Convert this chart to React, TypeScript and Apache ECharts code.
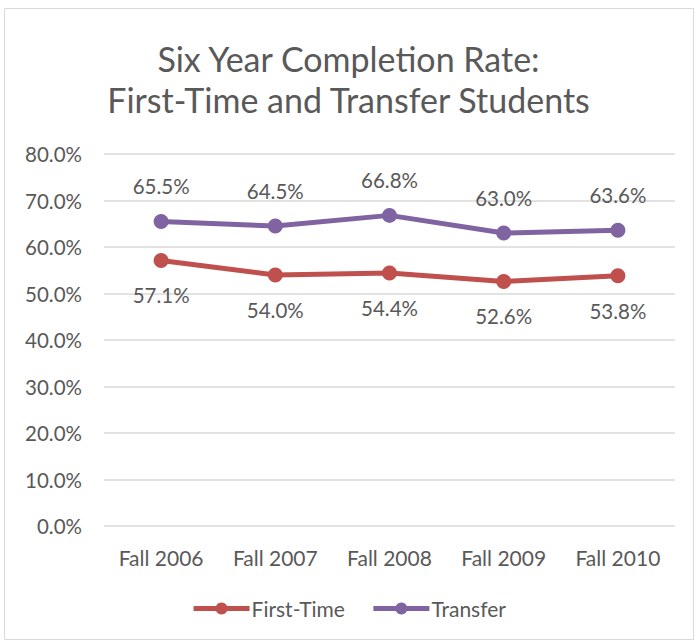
import React, { useEffect, useRef } from "react";
import * as echarts from "echarts";

const categories = ["Fall 2006", "Fall 2007", "Fall 2008", "Fall 2009", "Fall 2010"];
const firstTime = [57.1, 54.0, 54.4, 52.6, 53.8];
const transfer = [65.5, 64.5, 66.8, 63.0, 63.6];
const titleLines = ["Six Year Completion Rate:", "First-Time and Transfer Students"];

const FONT = "Lato, 'Open Sans', sans-serif";
const TXT = "#595959";

export default function App() {
  const ref = useRef<HTMLDivElement>(null);
  useEffect(() => {
    document.body.style.margin = "0";
    const chart = echarts.init(ref.current!, undefined, { renderer: "svg" });
    const pct = (v: number) => v.toFixed(1) + "%";
    chart.setOption({
      animation: false,
      backgroundColor: "#ffffff",
      textStyle: { fontFamily: FONT, color: TXT },
      title: {
        text: titleLines.join("\n"),
        left: "center",
        top: 33,
        textStyle: { fontFamily: FONT, fontSize: 34, fontWeight: "normal", color: TXT, lineHeight: 41 },
      },
      graphic: [
        {
          type: "rect",
          shape: { x: 4.5, y: 8.5, width: 689, height: 631 },
          style: { fill: "none", stroke: "#d9d9d9", lineWidth: 1 },
          silent: true,
        },
      ],
      legend: {
        bottom: 19,
        left: "center",
        itemWidth: 56,
        itemHeight: 15,
        itemGap: 26,
        lineStyle: { width: 5 },
        textStyle: { fontFamily: FONT, fontSize: 21, color: TXT, padding: [0, 0, 0, -3] },
        data: ["First-Time", "Transfer"],
      },
      grid: { left: 104, right: 22, top: 154, bottom: 117, containLabel: false },
      xAxis: {
        type: "category",
        data: categories,
        axisLine: { show: false },
        axisTick: { show: false },
        axisLabel: { fontFamily: FONT, fontSize: 21, color: TXT, margin: 21 },
      },
      yAxis: {
        type: "value",
        min: 0,
        max: 80,
        interval: 10,
        axisLine: { show: false },
        axisTick: { show: false },
        splitLine: { lineStyle: { color: "#d9d9d9", width: 1.5 } },
        axisLabel: { fontFamily: FONT, fontSize: 20.5, color: TXT, margin: 22, formatter: (v: number) => pct(v) },
      },
      series: [
        {
          name: "First-Time",
          type: "line",
          data: firstTime,
          color: "#c0504d",
          symbol: "circle",
          symbolSize: 15,
          lineStyle: { width: 5, color: "#c0504d" },
          itemStyle: { color: "#c0504d" },
          label: {
            show: true,
            position: "bottom",
            distance: 17,
            fontFamily: FONT,
            fontSize: 20.5,
            color: TXT,
            formatter: (p: any) => pct(p.value),
          },
        },
        {
          name: "Transfer",
          type: "line",
          data: transfer,
          color: "#8064a2",
          symbol: "circle",
          symbolSize: 15,
          lineStyle: { width: 5, color: "#8064a2" },
          itemStyle: { color: "#8064a2" },
          label: {
            show: true,
            position: "top",
            distance: 17,
            fontFamily: FONT,
            fontSize: 20.5,
            color: TXT,
            formatter: (p: any) => pct(p.value),
          },
        },
      ],
    });
    return () => chart.dispose();
  }, []);
  return <div ref={ref} style={{ position: "absolute", left: 0, top: 0, width: 697, height: 643 }} />;
}
